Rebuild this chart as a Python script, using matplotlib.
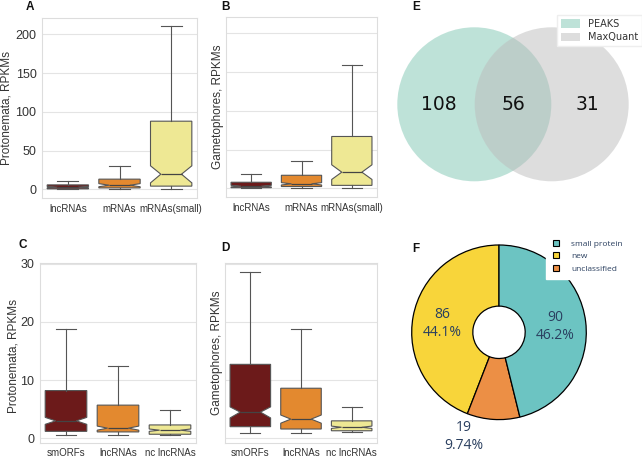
import matplotlib
matplotlib.use('Agg')
import matplotlib.pyplot as plt
from matplotlib.patches import Circle, Patch

plt.rcParams['font.family'] = ['Liberation Sans', 'DejaVu Sans']

# ---------------- data ----------------
ab_categories = ["lncRNAs", "mRNAs", "mRNAs(small)"]
# Panel A (Protonemata)
a_whislo = [0, 0, 0]
a_q1 = [0.8, 2, 4.3]
a_med = [3, 5.5, 19.7]
a_q3 = [5.9, 13.3, 88]
a_whishi = [10.7, 30, 211]
a_cilo = [2.2, 3.5, 8.5]
a_cihi = [3.8, 7.5, 30.5]
# Panel B (Gametophores)
b_whislo = [0, 0, 0]
b_q1 = [1, 2.5, 4]
b_med = [3, 6, 21]
b_q3 = [8, 17, 67]
b_whishi = [19, 36, 159]
b_cilo = [2.0, 4.5, 11.6]
b_cihi = [4.0, 7.5, 30.5]
ab_yticks = [0, 50, 100, 150, 200]

cd_categories = ["smORFs", "lncRNAs", "nc lncRNAs"]
# Panel C (Protonemata)
c_whislo = [0.5, 0.5, 0.5]
c_q1 = [1.2, 1.1, 0.7]
c_med = [3.0, 1.75, 1.4]
c_q3 = [8.2, 5.7, 2.3]
c_whishi = [18.7, 12.4, 4.9]
c_cilo = [2.4, 1.4, 1.2]
c_cihi = [3.6, 2.1, 1.6]
# Panel D (Gametophores)
d_whislo = [1.0, 1.0, 1.1]
d_q1 = [2.0, 1.6, 1.3]
d_med = [4.5, 3.3, 1.9]
d_q3 = [12.7, 8.6, 3.0]
d_whishi = [28.6, 18.8, 5.3]
d_cilo = [3.5, 2.6, 1.7]
d_cihi = [5.4, 4.0, 2.1]
cd_yticks = [0, 10, 20, 30]

box_colors = ['#6c1a1a', '#e3892f', '#eee894']

# Panel E (Venn)
venn_sets = ["PEAKS", "MaxQuant"]
venn_counts = [108, 56, 31]  # PEAKS only, both, MaxQuant only

# Panel F (donut)
pie_labels = ["small protein", "new", "unclassified"]
pie_values = [90, 86, 19]
pie_colors = ['#6cc4c2', '#f8d53a', '#ec8f45']

# ---------------- figure ----------------
W, H = 642, 457
fig = plt.figure(figsize=(W / 100, H / 100), dpi=100)


def px_axes(x0, y0, x1, y1):
    return fig.add_axes([x0 / W, 1 - y1 / H, (x1 - x0) / W, (y1 - y0) / H])


def draw_box(ax, cats, whislo, q1, med, q3, whishi, cilo, cihi):
    stats = []
    for i, c in enumerate(cats):
        stats.append(dict(label=c, whislo=whislo[i], q1=q1[i], med=med[i],
                          q3=q3[i], whishi=whishi[i], cilo=cilo[i],
                          cihi=cihi[i], fliers=[]))
    bp = ax.bxp(stats, positions=list(range(len(cats))), widths=0.8,
                patch_artist=True, shownotches=True, showfliers=False,
                boxprops=dict(edgecolor='#555555', linewidth=0.8),
                medianprops=dict(color='#444444', linewidth=0.9),
                whiskerprops=dict(color='#555555', linewidth=0.8),
                capprops=dict(color='#555555', linewidth=0.8))
    for patch, col in zip(bp['boxes'], box_colors):
        patch.set_facecolor(col)
    ax.set_xlim(-0.5, len(cats) - 0.5)
    ax.yaxis.grid(True, color='#e4e4e4', linewidth=0.8)
    ax.set_axisbelow(True)
    for s in ax.spines.values():
        s.set_color('#dddddd')
        s.set_linewidth(0.8)
    ax.tick_params(axis='both', length=0, colors='#333333')
    ax.tick_params(axis='y', labelsize=9, pad=4)
    ax.tick_params(axis='x', labelsize=7, pad=4)


axA = px_axes(42, 18, 197, 198)
draw_box(axA, ab_categories, a_whislo, a_q1, a_med, a_q3, a_whishi, a_cilo, a_cihi)
axA.set_ylim(-11, 221)
axA.set_yticks(ab_yticks)
axA.set_ylabel("Protonemata, RPKMs", fontsize=8.5, color='#333333')
axA.yaxis.set_label_coords(-0.19, 0.5)

axB = px_axes(226, 17, 377, 197)
draw_box(axB, ab_categories, b_whislo, b_q1, b_med, b_q3, b_whishi, b_cilo, b_cihi)
axB.set_ylim(-11, 221)
axB.set_yticks(ab_yticks)
axB.tick_params(axis='y', labelleft=False)
axB.set_ylabel("Gametophores, RPKMs", fontsize=8.5, color='#333333')
axB.yaxis.set_label_coords(-0.01, 0.5)

axC = px_axes(40, 263, 196, 442.7)
draw_box(axC, cd_categories, c_whislo, c_q1, c_med, c_q3, c_whishi, c_cilo, c_cihi)
axC.set_ylim(-0.75, 30.1)
axC.set_yticks(cd_yticks)
axC.set_ylabel("Protonemata, RPKMs", fontsize=8.5, color='#333333')
axC.yaxis.set_label_coords(-0.13, 0.48)

axD = px_axes(225, 263, 377, 442.7)
draw_box(axD, cd_categories, d_whislo, d_q1, d_med, d_q3, d_whishi, d_cilo, d_cihi)
axD.set_ylim(-0.75, 30.1)
axD.set_yticks(cd_yticks)
axD.tick_params(axis='y', labelleft=False)
axD.set_ylabel("Gametophores, RPKMs", fontsize=8.5, color='#333333')
axD.yaxis.set_label_coords(-0.012, 0.5)

# ---------------- Venn ----------------
axE = px_axes(390, 10, 642, 200)
r_px = 77.0
cx_left = 474.3
axE.set_xlim((390 - cx_left) / r_px, (642 - cx_left) / r_px)
axE.set_ylim((104.3 - 200) / r_px, (104.3 - 10) / r_px)
axE.axis('off')
d = 1.005
venn_colors = ['#7fc6b2', '#bcbcbc']
c1 = Circle((0, 0), 1, facecolor=venn_colors[0], alpha=0.5, edgecolor='none')
c2 = Circle((d, 0), 1, facecolor=venn_colors[1], alpha=0.5, edgecolor='none')
axE.add_patch(c1)
axE.add_patch(c2)
for xpos, val in zip([-0.46, d / 2, d + 0.46], venn_counts):
    axE.text(xpos, 0, str(val), ha='center', va='center', fontsize=13.5,
             family='DejaVu Sans', color='#111111')
venn_handles = [Patch(facecolor=venn_colors[0], alpha=0.5, edgecolor='none'),
                Patch(facecolor=venn_colors[1], alpha=0.5, edgecolor='none')]
legE = fig.legend(venn_handles, venn_sets, loc='upper right',
                  bbox_to_anchor=(1.0, 1 - 15 / H), borderaxespad=0,
                  prop=dict(family='DejaVu Sans', size=7), handlelength=2.0,
                  handleheight=0.9, labelspacing=0.35, fancybox=False,
                  framealpha=1, edgecolor='#eeeeee', borderpad=0.4)
for t in legE.get_texts():
    t.set_color('#333333')

# ---------------- Donut ----------------
R_px = 87.3
cxF, cyF = 499, 332.3
axF = px_axes(cxF - 110, cyF - 110, cxF + 110, cyF + 110)
order = [1, 2, 0]  # counter-clockwise from top: new, unclassified, small protein
wedges, _ = axF.pie([pie_values[i] for i in order],
                    colors=[pie_colors[i] for i in order],
                    startangle=90, counterclock=True, radius=1,
                    wedgeprops=dict(width=0.7, edgecolor='black', linewidth=0.9))
lim = 110 / R_px
axF.set_xlim(-lim, lim)
axF.set_ylim(-lim, lim)
total = sum(pie_values)
label_pos = {0: (0.64, 0.07), 1: (-0.65, 0.10), 2: (-0.40, -1.19)}
for i in range(len(pie_values)):
    pct = 100 * pie_values[i] / total
    pct_txt = f"{pct:.3g}%"
    x, y = label_pos[i]
    axF.text(x, y, f"{pie_values[i]}\n{pct_txt}", ha='center', va='center',
             fontsize=10, family=['Open Sans', 'DejaVu Sans'], color='#2a3f5f',
             linespacing=1.25, clip_on=False)
pie_handles = [Patch(facecolor=c, edgecolor='black', linewidth=0.8) for c in pie_colors]
legF = fig.legend(pie_handles, pie_labels, loc='upper left',
                  bbox_to_anchor=(546 / W, 1 - 233 / H), borderaxespad=0,
                  prop=dict(family='Open Sans', size=6), handlelength=0.75,
                  handleheight=0.75, handletextpad=1.5, labelspacing=0.55,
                  frameon=True, fancybox=False, framealpha=1,
                  edgecolor='white', facecolor='white', borderpad=0.8)
for t in legF.get_texts():
    t.set_color('#2a3f5f')

# ---------------- panel letters ----------------
for letter, (x, y) in {'A': (29.5, 7.3), 'B': (225.5, 7.3), 'E': (416.3, 6.7),
                       'C': (22.7, 244.7), 'D': (225.5, 248.3), 'F': (416, 248.8)}.items():
    fig.text(x / W, 1 - y / H, letter, ha='center', va='center',
             fontsize=8.5, fontweight='bold', color='#111111')

fig.savefig('out.png', dpi=100)
